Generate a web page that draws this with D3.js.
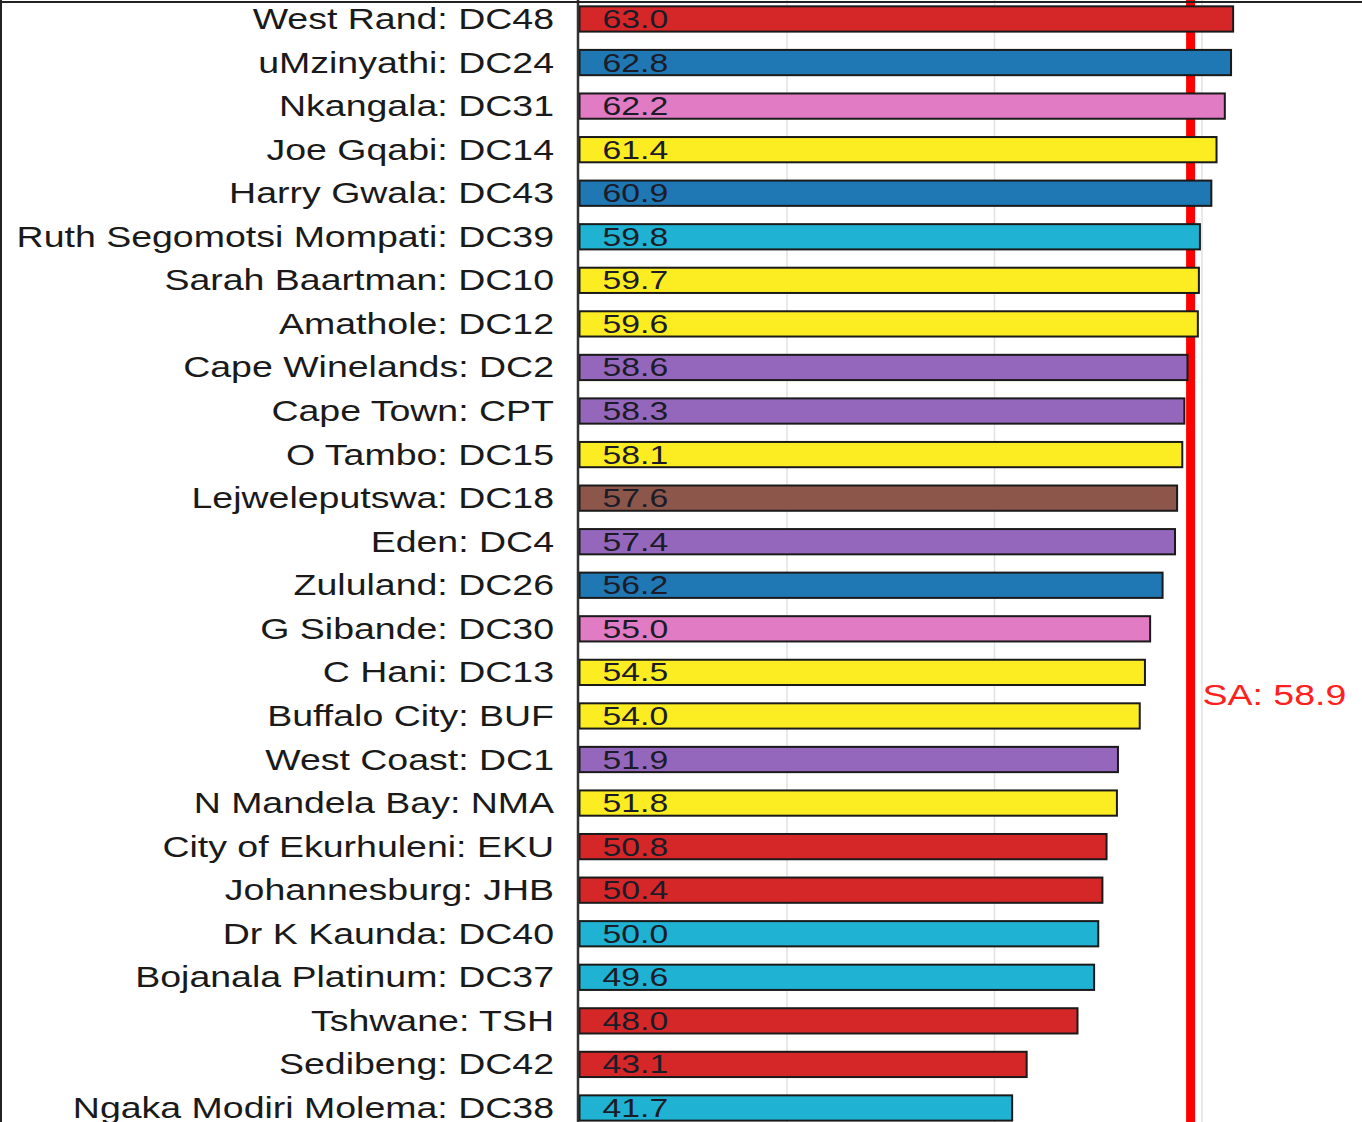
<!DOCTYPE html>
<html>
<head>
<meta charset="utf-8">
<script src="https://cdn.jsdelivr.net/npm/d3@7"></script>
<style>
  body { margin: 0; background: #fff; }
  svg text { font-family: "Liberation Sans", Arial, sans-serif; }
</style>
</head>
<body>
<div id="chart"></div>
<script>
// data
const districts = [
  "West Rand: DC48", "uMzinyathi: DC24", "Nkangala: DC31", "Joe Gqabi: DC14",
  "Harry Gwala: DC43", "Ruth Segomotsi Mompati: DC39", "Sarah Baartman: DC10",
  "Amathole: DC12", "Cape Winelands: DC2", "Cape Town: CPT", "O Tambo: DC15",
  "Lejweleputswa: DC18", "Eden: DC4", "Zululand: DC26", "G Sibande: DC30",
  "C Hani: DC13", "Buffalo City: BUF", "West Coast: DC1", "N Mandela Bay: NMA",
  "City of Ekurhuleni: EKU", "Johannesburg: JHB", "Dr K Kaunda: DC40",
  "Bojanala Platinum: DC37", "Tshwane: TSH", "Sedibeng: DC42", "Ngaka Modiri Molema: DC38"
];
const values = [
  63.0, 62.8, 62.2, 61.4, 60.9, 59.8, 59.7, 59.6, 58.6, 58.3, 58.1, 57.6, 57.4,
  56.2, 55.0, 54.5, 54.0, 51.9, 51.8, 50.8, 50.4, 50.0, 49.6, 48.0, 43.1, 41.7
];
const provinces = [
  "GP", "KZN", "MP", "EC", "KZN", "NW", "EC", "EC", "WC", "WC", "EC", "FS", "WC",
  "KZN", "MP", "EC", "EC", "WC", "EC", "GP", "GP", "NW", "NW", "GP", "GP", "NW"
];
const provinceKeys = ["GP", "KZN", "MP", "EC", "NW", "WC", "FS"];
const provinceColors = ["#d62728", "#1f77b4", "#e07bc4", "#fcec22", "#1fb2d2", "#9467bd", "#8c564b"];
const gridTicks = [20, 40, 60];
const saValue = 58.9;

const dataset = districts.map((d, i) => ({ name: d, value: values[i], prov: provinces[i] }));

const width = 1362, height = 1122;

const svg = d3.select("#chart").append("svg")
  .attr("width", width).attr("height", height);

const xScale = d3.scaleLinear().domain([0, 75]).range([579.5, 579.5 + 75 * 10.375]);
const yScale = d3.scaleBand()
  .domain(districts)
  .range([-2.8, -2.8 + 26 * 43.56])
  .paddingInner(0.42)
  .paddingOuter(0.21);
const color = d3.scaleOrdinal().domain(provinceKeys).range(provinceColors);

// grid lines
svg.append("g")
  .selectAll("line")
  .data(gridTicks)
  .join("line")
  .attr("x1", d => xScale(d)).attr("x2", d => xScale(d))
  .attr("y1", 0).attr("y2", height)
  .attr("stroke", "#e2e2e2")
  .attr("stroke-width", 1.5);

// SA average line
svg.append("line")
  .attr("x1", xScale(saValue)).attr("x2", xScale(saValue))
  .attr("y1", 0).attr("y2", height)
  .attr("stroke", "#ff0000")
  .attr("stroke-width", 9);

// bars
svg.append("g")
  .selectAll("rect")
  .data(dataset)
  .join("rect")
  .attr("x", xScale(0))
  .attr("y", d => yScale(d.name))
  .attr("width", d => xScale(d.value) - xScale(0))
  .attr("height", yScale.bandwidth())
  .attr("fill", d => color(d.prov))
  .attr("stroke", "#1a1a1a")
  .attr("stroke-width", 2);

// value labels
svg.append("g")
  .selectAll("text")
  .data(dataset)
  .join("text")
  .attr("transform", d => `translate(${xScale(0) + 23},${yScale(d.name) + yScale.bandwidth() / 2 + 9}) scale(1.35,1)`)
  .attr("font-size", 25)
  .attr("fill", "#1c1c28")
  .text(d => d.value.toFixed(1));

// y axis labels
svg.append("g")
  .selectAll("text")
  .data(dataset)
  .join("text")
  .attr("transform", d => `translate(554,${yScale(d.name) + yScale.bandwidth() / 2 + 10}) scale(1.25,1)`)
  .attr("text-anchor", "end")
  .attr("font-size", 30)
  .attr("fill", "#1a1a1a")
  .text(d => d.name);

// axis line
svg.append("line")
  .attr("x1", 578).attr("x2", 578)
  .attr("y1", 0).attr("y2", height)
  .attr("stroke", "#333")
  .attr("stroke-width", 2.5);

// SA label
svg.append("text")
  .attr("transform", `translate(${xScale(saValue) + 12},705) scale(1.27,1)`)
  .attr("font-size", 29.5)
  .attr("fill", "#ff2020")
  .text(`SA: ${saValue}`);

// frame at top / left
svg.append("line").attr("x1", 0).attr("x2", width).attr("y1", 2).attr("y2", 2)
  .attr("stroke", "#222").attr("stroke-width", 2);
svg.append("line").attr("x1", 1).attr("x2", 1).attr("y1", 0).attr("y2", height)
  .attr("stroke", "#222").attr("stroke-width", 2);
</script>
</body>
</html>
